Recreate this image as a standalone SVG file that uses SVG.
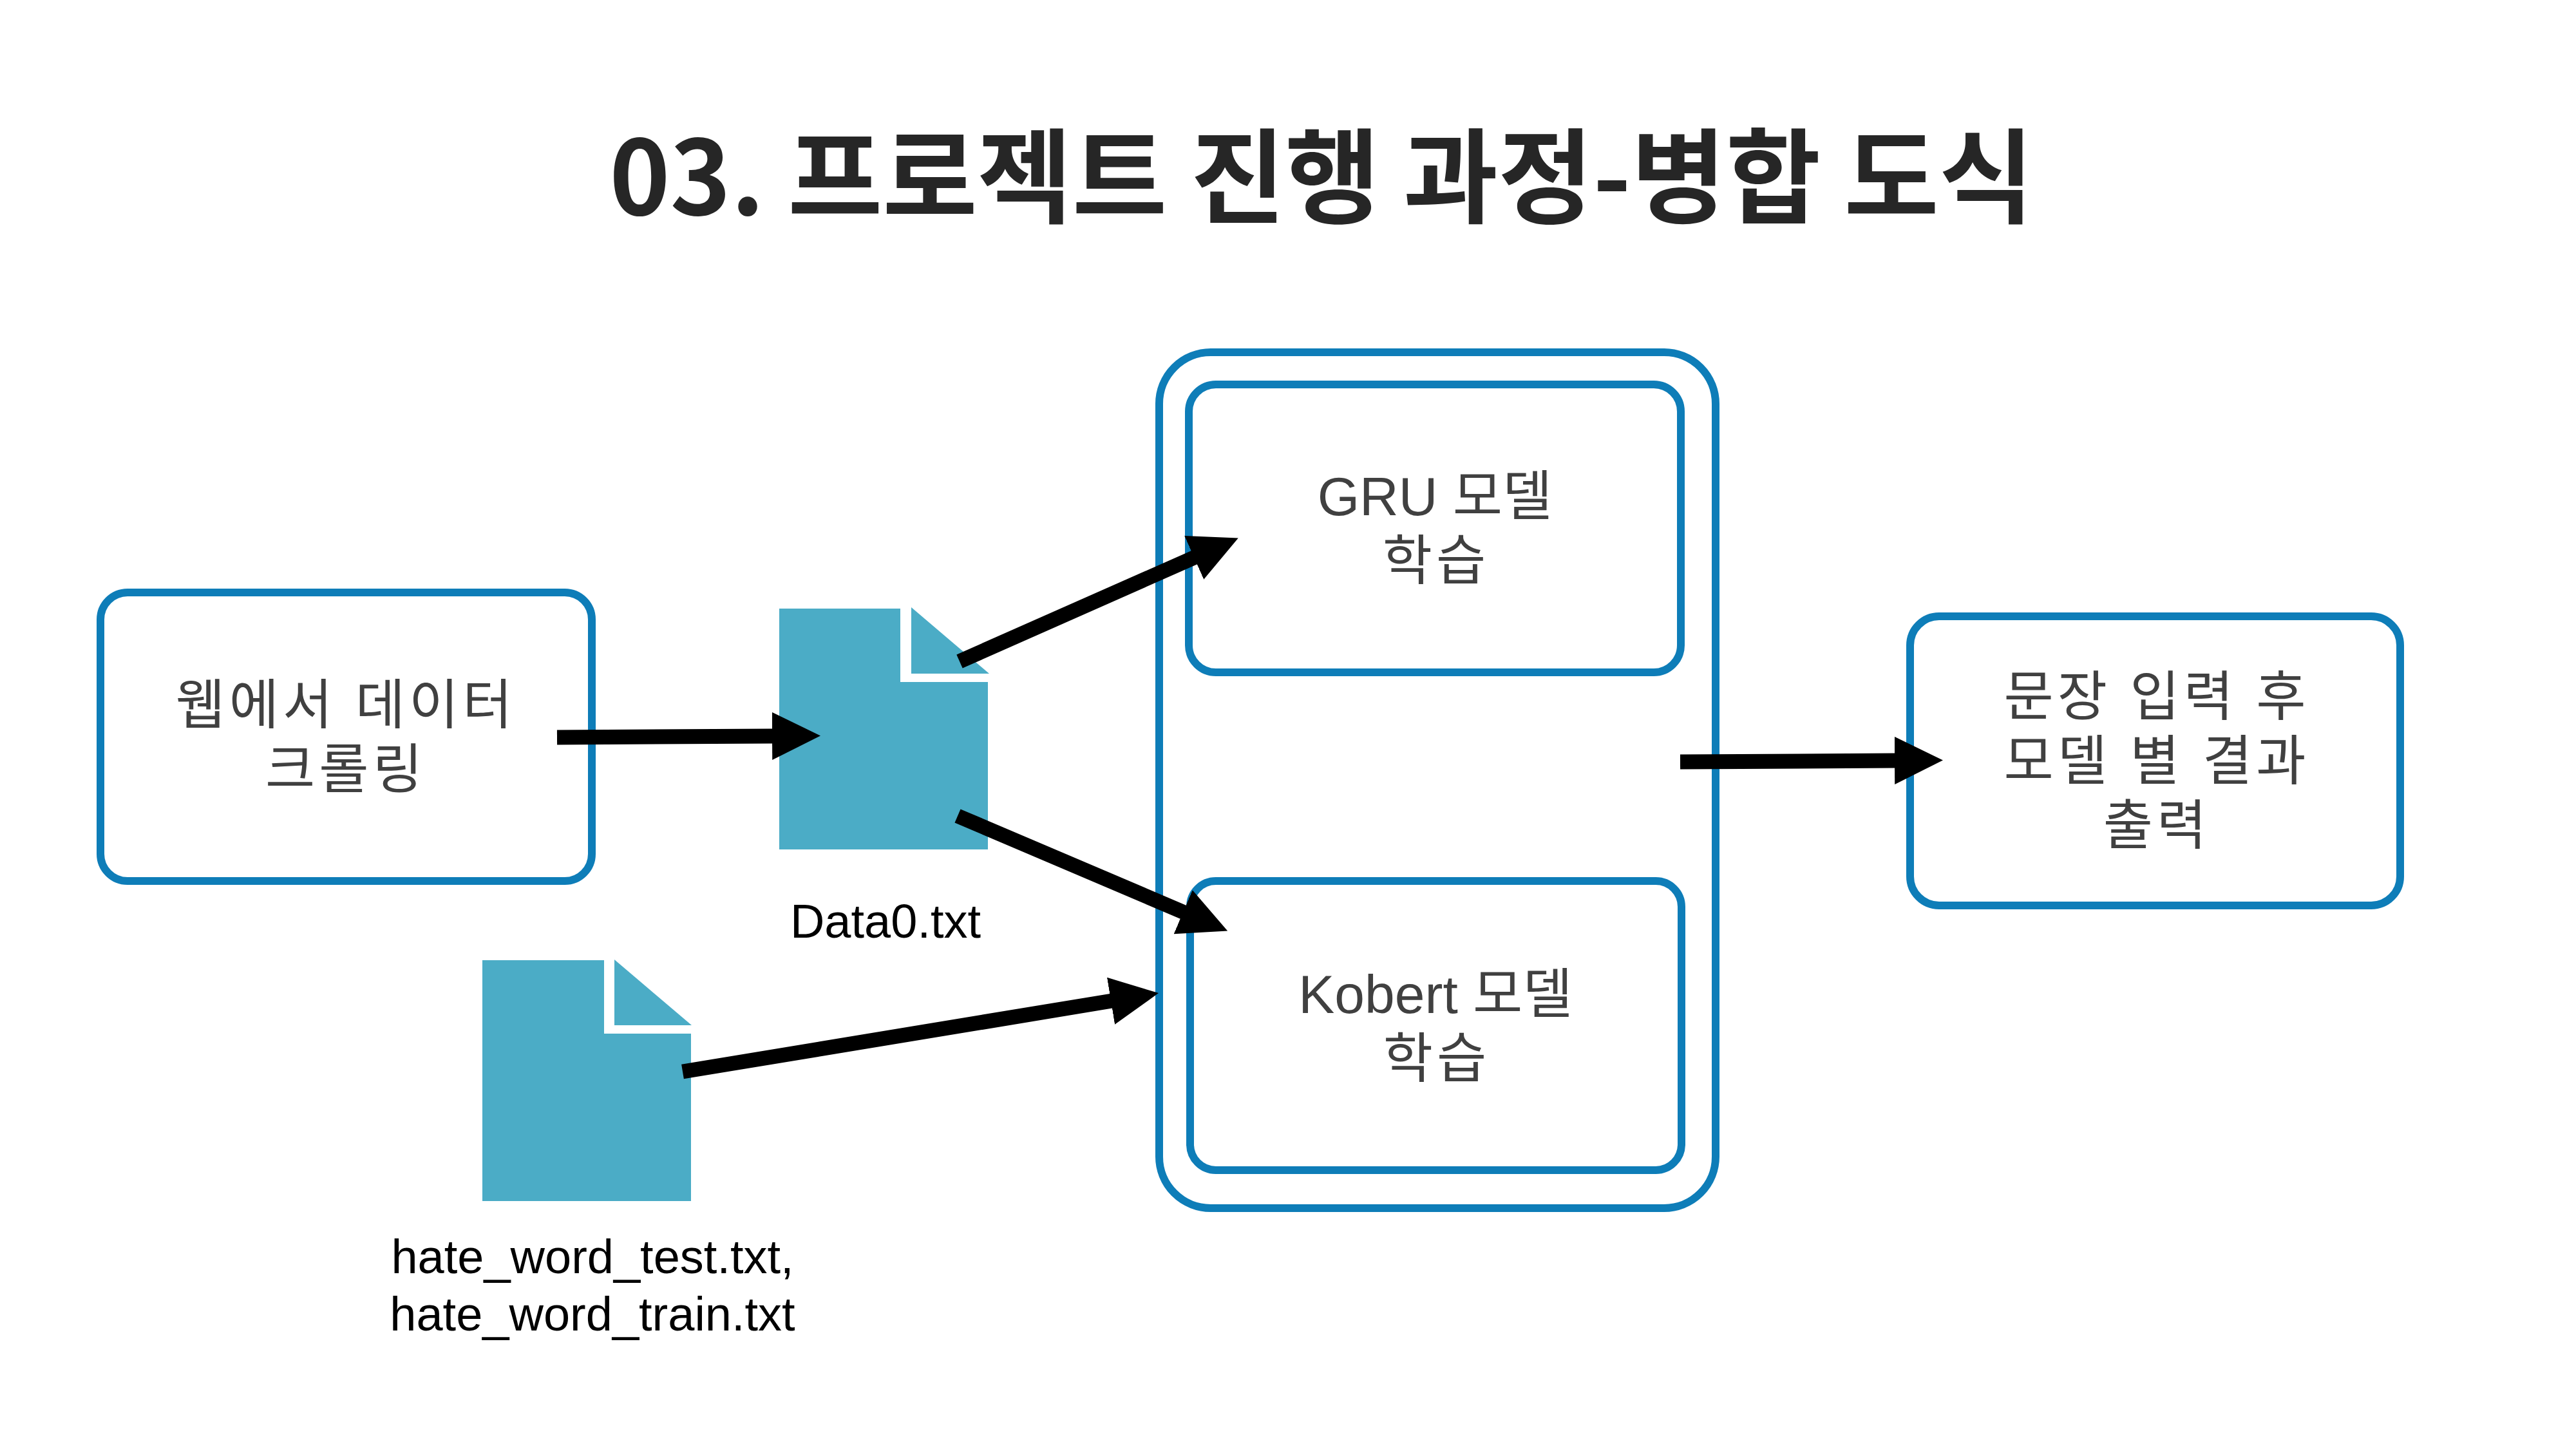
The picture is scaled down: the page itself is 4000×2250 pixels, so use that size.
<svg xmlns="http://www.w3.org/2000/svg" width="4000" height="2250" viewBox="0 0 4000 2250">
  <style>
    .box { fill: #FFFFFF; stroke: #0E7DB8; stroke-width: 12; }
    .cont { fill: none; stroke: #0E7DB8; stroke-width: 12; }
    .doc { fill: #4BACC6; }
    .lbl { font-family: "Liberation Sans", "Noto Sans CJK KR", sans-serif; font-size: 84px; fill: #404040; text-anchor: middle; }
    .ko { letter-spacing: 6px; }
    .cap { font-family: "Liberation Sans", "Noto Sans CJK KR", sans-serif; font-size: 74px; fill: #000000; text-anchor: middle; }
    .title { font-family: "Noto Sans CJK KR", "Liberation Sans", sans-serif; font-size: 160px; font-weight: bold; fill: #262626; text-anchor: middle; }
    .conn { fill: none; stroke: #000000; stroke-width: 23; marker-end: url(#head); }
  </style>
  <defs>
    <marker id="head" markerUnits="userSpaceOnUse" markerWidth="80" markerHeight="80" refX="2" refY="37" orient="auto">
      <path d="M0,0 L75,37 L0,74 z" fill="#000000"/>
    </marker>
  </defs>
  <rect x="0" y="0" width="4000" height="2250" fill="#FFFFFF"/>

  <text id="title" class="title" x="2052" y="334">03. 프로젝트 진행 과정-병합 도식</text>

  <g id="crawl">
    <rect class="box" x="156" y="920" width="763" height="448" rx="42" ry="42"/>
    <text class="lbl ko" x="537" y="1124">웹에서 데이터</text>
    <text class="lbl ko" x="537" y="1224">크롤링</text>
  </g>

  <g id="data0">
    <polygon class="doc" points="1210,945 1398,945 1398,1059 1534,1059 1534,1319 1210,1319"/>
    <polygon class="doc" points="1415,943 1536,1046 1415,1046"/>
    <text class="cap" x="1375" y="1456">Data0.txt</text>
  </g>

  <g id="hateword">
    <polygon class="doc" points="749,1491 938,1491 938,1605 1073,1605 1073,1865 749,1865"/>
    <polygon class="doc" points="954,1490 1074,1592 954,1592"/>
    <text class="cap" x="920" y="1977">hate_word_test.txt,</text>
    <text class="cap" x="920" y="2066">hate_word_train.txt</text>
  </g>

  <g id="models">
    <rect class="cont" x="1800" y="547" width="864" height="1329" rx="80" ry="80"/>
  </g>

  <g id="gru">
    <rect class="box" x="1846" y="597" width="764" height="447" rx="42" ry="42"/>
    <text class="lbl" x="2228" y="800">GRU 모델</text>
    <text class="lbl ko" x="2230" y="900">학습</text>
  </g>

  <g id="kobert">
    <rect class="box" x="1848" y="1368" width="763" height="449" rx="40" ry="40"/>
    <text class="lbl" x="2229" y="1573">Kobert 모델</text>
    <text class="lbl ko" x="2231" y="1673">학습</text>
  </g>

  <g id="output">
    <rect class="box" x="2966" y="957" width="761" height="449" rx="45" ry="45"/>
    <text class="lbl ko" x="3349" y="1111">문장 입력 후</text>
    <text class="lbl ko" x="3349" y="1211">모델 별 결과</text>
    <text class="lbl ko" x="3349" y="1311">출력</text>
  </g>

  <g id="connectors">
    <line class="conn" x1="865" y1="1145" x2="1201" y2="1143"/>
    <line class="conn" x1="1490" y1="1027" x2="1856" y2="865"/>
    <line class="conn" x1="1487" y1="1267" x2="1839" y2="1417"/>
    <line class="conn" x1="1060" y1="1664" x2="1727" y2="1554"/>
    <line class="conn" x1="2609" y1="1183" x2="2944" y2="1181"/>
  </g>
</svg>
